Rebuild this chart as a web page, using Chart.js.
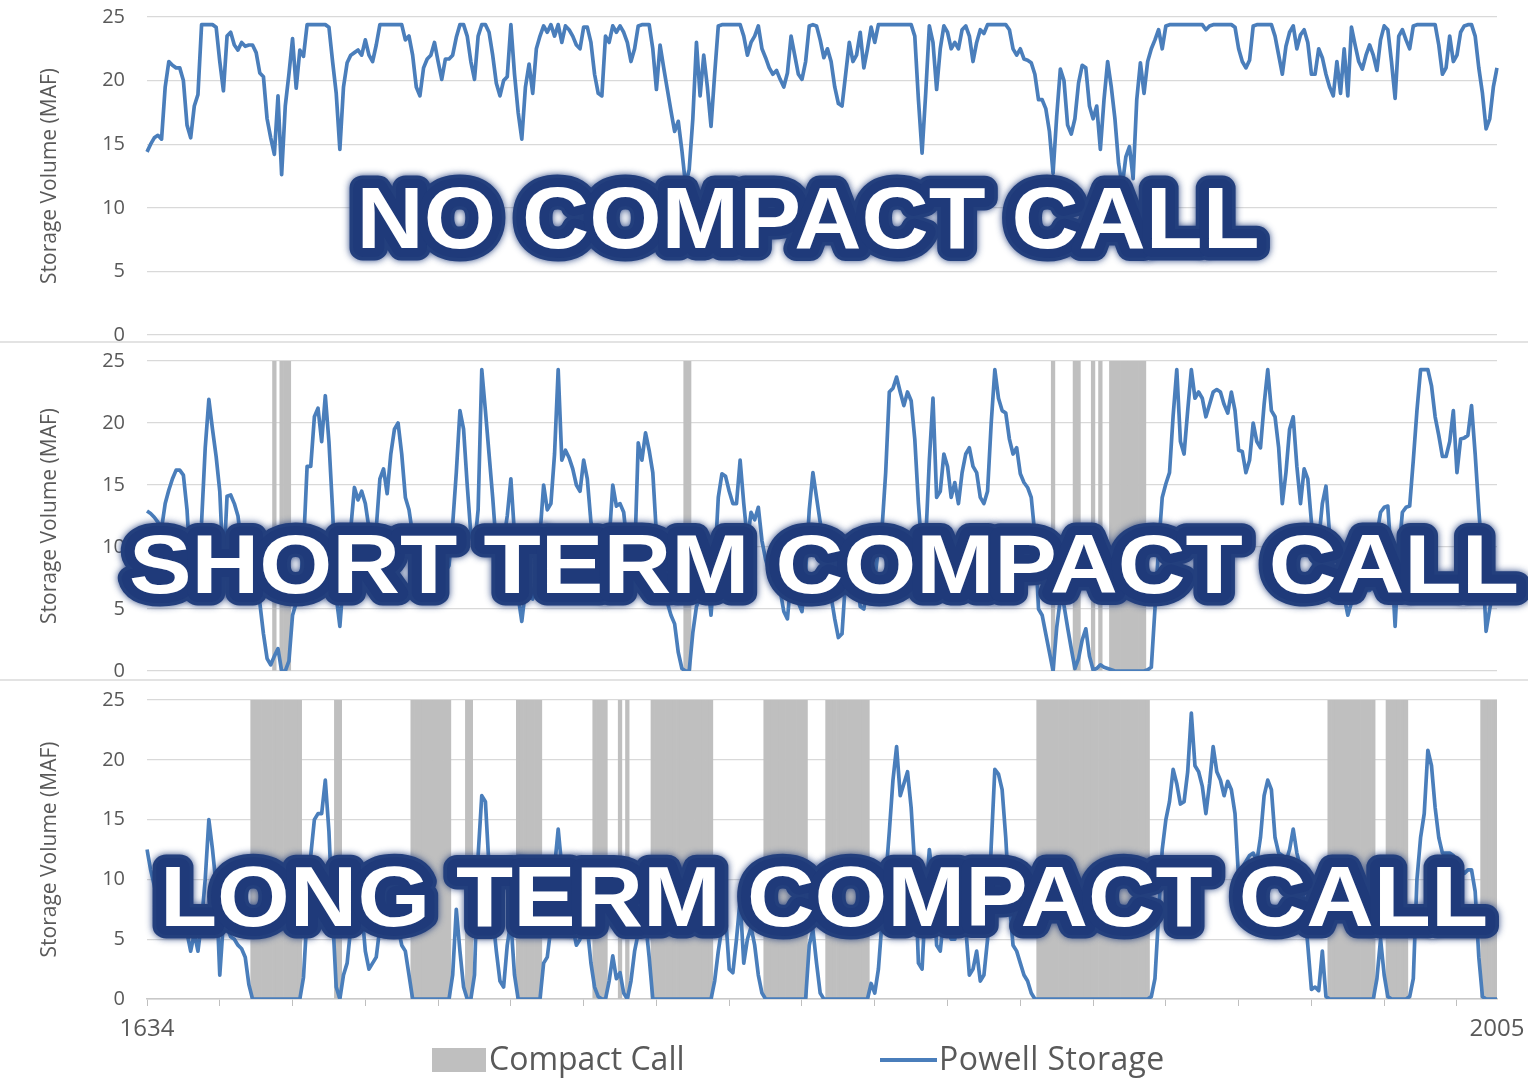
<!DOCTYPE html>
<html>
<head>
<meta charset="utf-8">
<script src="https://cdn.jsdelivr.net/npm/chart.js@4.4.1/dist/chart.umd.min.js"></script>
<style>
  html, body { margin: 0; padding: 0; background: #ffffff; }
  #wrap { position: relative; width: 1528px; height: 1078px; overflow: hidden; background: #fff; }
  canvas.layer { position: absolute; left: 0; top: 0; }
  .sep { position: absolute; left: 0; width: 1528px; height: 2px; background: #e3e3e3; }
  .lg { position: absolute; font-family: "Open Sans", "Noto Sans", sans-serif; font-size: 32px; line-height: 32px; color: #595959; white-space: nowrap; }
  .lgbox { position: absolute; background: #bfbfbf; }
  .lgline { position: absolute; background: #4a7ebb; }
</style>
</head>
<body>
<div id="wrap">
  <canvas id="c1" class="layer" width="1528" height="1078"></canvas>
  <canvas id="c2" class="layer" width="1528" height="1078"></canvas>
  <canvas id="c3" class="layer" width="1528" height="1078"></canvas>
  <div class="sep" style="top:341px"></div>
  <div class="sep" style="top:679px"></div>
  <div class="lgbox" style="left:432px; top:1048px; width:54px; height:24px;"></div>
  <div class="lg" style="left:489px; top:1042px;">Compact Call</div>
  <div class="lgline" style="left:880px; top:1058px; width:57px; height:4px;"></div>
  <div class="lg" style="left:939px; top:1042px; letter-spacing:0.4px;">Powell Storage</div>
</div>
<script>
// ---------------- data ----------------
const firstYear = 1634;
const lastYear = 2005;
const years = [];
for (let y = firstYear; y <= lastYear; y++) years.push(String(y));

const edgeTickLabels = ["1634", "2005"];
const yTickValues = [0, 5, 10, 15, 20, 25];

// Powell storage (MAF), no compact call
const noCallStorage = [
14.4,15.0,15.5,15.7,15.4,19.5,21.5,21.2,21.0,21.0,
20.0,16.5,15.5,18.0,18.9,24.4,24.4,24.4,24.4,24.2,
21.5,19.2,23.5,23.8,22.8,22.4,23.0,22.7,22.8,22.8,
22.2,20.6,20.3,17.0,15.5,14.2,18.8,12.6,18.0,20.5,
23.3,19.4,22.4,21.9,24.4,24.4,24.4,24.4,24.4,24.4,
24.2,21.5,19.0,14.6,19.5,21.4,22.0,22.2,22.4,22.0,
23.2,22.0,21.5,22.8,24.4,24.4,24.4,24.4,24.4,24.4,
24.4,23.2,23.5,22.0,19.5,18.8,21.0,21.7,22.0,23.0,
21.5,20.1,21.7,21.7,22.0,23.4,24.4,24.4,23.5,21.5,
20.1,23.5,24.4,24.4,23.8,22.0,19.8,18.8,20.0,20.3,
24.4,20.5,17.5,15.4,19.5,21.3,19.0,22.5,23.5,24.3,
23.8,24.4,23.5,24.4,23.0,24.3,24.0,23.5,22.8,22.5,
24.2,24.2,23.0,20.5,19.0,18.8,23.5,23.0,24.3,23.8,
24.3,23.8,23.0,21.5,22.5,24.3,24.4,24.4,24.4,22.5,
19.3,22.8,21.0,19.3,17.6,16.0,16.8,14.5,11.8,13.0,
17.0,23.0,18.8,22.0,19.5,16.4,20.5,24.3,24.4,24.4,
24.4,24.4,24.4,24.4,23.5,22.0,23.0,23.5,24.3,22.5,
21.8,21.0,20.5,20.8,20.1,19.5,20.6,23.5,22.0,20.5,
20.1,21.5,24.3,24.4,24.3,23.2,21.8,22.5,21.5,19.5,
18.2,18.0,20.5,23.0,21.5,22.0,23.8,21.0,22.5,24.2,
23.0,24.4,24.4,24.4,24.4,24.4,24.4,24.4,24.4,24.4,
24.4,23.5,18.5,14.3,19.0,24.3,23.0,19.3,22.5,24.3,
23.8,22.5,23.0,22.5,24.0,24.3,23.5,21.5,23.0,24.0,
23.7,24.4,24.4,24.4,24.4,24.4,24.4,24.0,22.5,22.0,
22.5,21.7,21.6,21.4,20.5,18.5,18.5,17.8,16.0,12.7,
17.2,20.9,20.0,16.5,15.8,17.0,19.8,21.2,21.0,18.0,
17.0,18.0,14.6,18.5,21.5,19.5,17.0,13.5,11.7,14.0,
14.8,12.3,18.5,21.4,19.0,21.5,22.5,23.2,24.0,22.5,
24.3,24.4,24.4,24.4,24.4,24.4,24.4,24.4,24.4,24.4,
24.4,24.0,24.3,24.4,24.4,24.4,24.4,24.4,24.4,24.2,
22.5,21.5,21.0,21.6,24.3,24.4,24.4,24.4,24.4,24.4,
23.5,22.0,20.5,22.7,23.8,24.3,22.5,23.6,24.0,23.0,
20.5,20.5,22.5,21.8,20.5,19.5,18.8,21.5,19.0,22.5,
18.8,24.2,22.8,21.5,20.9,22.0,22.8,22.0,20.8,23.2,
24.3,24.0,21.5,18.6,23.5,24.0,23.2,22.5,24.3,24.4,
24.4,24.4,24.4,24.4,24.4,22.8,20.5,21.0,23.5,21.5,
22.0,23.8,24.3,24.4,24.4,23.5,21.0,19.0,16.2,17.0,
19.5,21.0];

// Powell storage (MAF), short term compact call
const shortTermStorage = [
12.9,12.7,12.4,12.0,11.5,13.5,14.6,15.5,16.2,16.2,
15.8,13.0,8.0,6.0,8.5,12.0,18.0,21.9,19.5,17.3,
14.5,8.0,14.1,14.2,13.5,12.5,10.0,8.5,7.0,6.5,
6.0,5.5,3.0,1.0,0.5,1.2,1.8,0,0,0.8,
4.5,5.5,6.5,10.0,16.5,16.5,20.5,21.2,18.5,22.2,
18.5,13.0,6.0,3.6,7.5,10.5,11.5,14.8,13.8,14.5,
13.5,11.5,9.5,11.5,15.5,16.3,14.3,17.5,19.5,20.0,
17.5,14.0,13.0,11.0,9.0,8.0,7.5,9.0,11.5,11.5,
10.0,8.5,8.0,8.5,11.8,16.0,21.0,19.5,15.0,11.0,
10.0,13.0,24.3,21.0,17.5,14.0,10.0,8.5,10.5,12.5,
15.5,11.0,6.0,4.0,6.5,6.0,5.8,8.0,11.0,15.0,
13.0,13.5,17.5,24.3,17.0,17.8,17.2,16.3,15.0,14.5,
17.0,15.5,12.0,11.0,8.0,6.0,7.0,10.5,15.0,13.3,
13.5,12.8,10.0,8.5,9.0,18.4,17.0,19.2,17.8,16.0,
11.0,8.5,7.5,5.5,4.5,3.8,1.5,0.2,0,0,
3.1,5.2,6.0,9.0,7.5,4.5,8.5,14.0,15.9,15.7,
14.5,13.5,13.5,17.0,13.5,10.5,12.8,12.2,13.2,10.5,
9.0,8.0,7.0,7.3,6.5,4.8,4.2,7.5,6.5,5.5,
4.8,8.0,13.0,16.0,14.0,12.0,10.5,8.0,6.0,4.2,
2.7,3.0,7.5,10.0,11.0,8.0,5.2,5.0,7.0,7.5,
7.3,10.0,11.5,16.0,22.5,22.8,23.7,22.5,21.4,22.5,
21.8,18.7,13.5,9.5,10.5,17.0,22.0,14.0,14.5,17.5,
16.5,14.0,15.2,13.5,16.0,17.5,18.0,16.5,16.0,14.0,
13.5,14.5,20.0,24.3,22.0,21.0,20.8,18.7,17.5,18.0,
15.9,15.2,14.8,14.0,11.0,5.0,4.5,3.0,1.5,0,
3.5,5.8,5.3,3.5,1.8,0.2,1.0,2.5,3.4,1.2,
0.1,0.2,0.5,0.3,0.2,0.1,0,0,0,0,
0,0,0,0,0,0.1,0.3,5.0,10.0,14.0,
15.1,16.0,20.6,24.3,18.5,17.5,21.0,24.3,22.0,22.5,
22.0,20.5,21.5,22.5,22.7,22.5,21.5,20.8,22.5,21.0,
17.8,17.7,16.0,17.0,20.0,18.5,18.0,21.5,24.3,21.0,
20.5,18.0,13.5,16.0,19.5,20.5,16.5,13.5,16.3,15.5,
12.0,6.5,10.5,13.5,14.9,11.0,8.0,6.0,5.8,6.0,
4.5,5.5,7.0,7.5,7.0,6.5,6.5,9.5,11.0,12.8,
13.2,13.3,9.0,3.6,9.5,12.8,13.2,13.3,17.0,21.0,
24.3,24.3,24.3,23.0,20.5,19.0,17.3,17.3,18.5,21.0,
16.0,18.7,18.8,19.0,21.4,17.5,13.0,9.0,3.2,5.0,
6.5,6.1];

// Powell storage (MAF), long term compact call
const longTermStorage = [
12.5,10.8,9.5,8.0,7.0,6.0,5.5,6.5,8.0,7.5,
6.0,5.5,4.0,5.5,4.0,6.5,10.0,15.0,12.5,9.5,
2.0,6.5,6.0,5.2,5.0,4.5,4.2,3.5,1.2,0,
0,0,0,0,0,0,0,0,0,0,
0,0,0,1.8,7.0,12.0,15.0,15.5,15.5,18.3,
14.0,7.0,1.0,0,2.0,3.0,6.0,8.0,9.0,7.5,
4.0,2.5,3.0,3.5,6.0,9.0,10.0,8.0,7.0,6.0,
4.5,4.0,2.0,0,0,0,0,0,0,0,
0,0,0,0,2.0,7.5,4.0,1.0,0,0,
2.0,12.0,17.0,16.5,11.0,7.0,4.0,1.5,1.0,4.5,
6.5,2.0,0,0,0,0,0,0,0,3.0,
3.5,6.0,11.0,14.2,11.0,7.0,6.0,6.0,4.5,5.0,
7.0,6.0,3.0,1.0,0.2,0,0,1.5,3.6,1.7,
2.2,0.5,0,1.5,4.0,5.5,7.0,6.5,3.5,0,
0,0,0,0,0,0,0,0,0,0,
0,0,0,0,0,0,1.5,4.0,6.0,7.0,
2.5,2.2,5.0,8.3,3.0,5.0,6.0,4.5,2.0,0.5,
0,0,0,0,0,0,0,0,0,0,
0,0,4.5,5.8,3.0,0.5,0,0,0,0,
0,0,0,0,0,0,0,0,0,1.3,
0.5,2.5,6.5,10.0,14.0,18.3,21.1,17.0,18.0,19.0,
16.0,11.0,3.0,2.5,8.5,12.5,10.0,4.5,4.0,7.0,
6.0,5.0,5.0,8.0,6.5,6.0,2.0,2.5,4.0,1.5,
2.0,5.0,12.8,19.2,18.8,17.5,13.5,8.0,4.5,4.0,
3.0,2.0,1.5,0.5,0,0,0,0,0,0,
0,0,0,0,0,0,0,0,0,0,
0,0,0,0,0,0,0,0,0,0,
0,0,0,0,0,0,0.2,1.7,7.0,12.5,
15.0,16.5,19.2,18.0,16.3,16.5,19.0,23.9,19.5,19.0,
17.8,15.5,18.0,21.1,19.0,18.3,17.0,18.2,17.5,15.5,
10.0,11.0,11.5,12.0,12.2,11.5,13.5,17.0,18.3,17.5,
13.5,12.2,12.0,11.5,12.5,14.2,12.2,11.0,8.0,4.5,
0.8,1.0,0.7,4.0,0.2,0,0,0,0,0,
0,0,0,0,0,0,0,0,1.7,5.0,
2.0,0.2,0,0,0,0,0,0.2,1.7,10.0,
13.5,15.5,20.8,19.5,16.0,13.5,12.2,12.2,12.2,12.0,
11.5,11.0,10.5,10.8,10.8,9.0,3.5,0.2,0,0,
0,0];

// Compact call periods (first year, last year)
const shortTermCallPeriods = [[1669,1669],[1671,1673],[1782,1783],[1883,1883],[1889,1890],[1894,1894],[1896,1896],[1899,1908]];
const longTermCallPeriods = [[1663,1676],[1686,1687],[1707,1717],[1722,1723],[1736,1742],[1757,1760],[1764,1764],[1766,1766],[1773,1789],[1804,1815],[1821,1832],[1879,1909],[1959,1971],[1975,1980],[2001,2005]];
const callLevel = 25;

const panelTitles = ["NO COMPACT CALL", "SHORT TERM COMPACT CALL", "LONG TERM COMPACT CALL"];
const seriesNames = ["Compact Call", "Powell Storage"];
const yAxisTitle = "Storage Volume (MAF)";

// ---------------- styles ----------------
const BLUE = '#4a7ebb';
const GRAY = '#bfbfbf';
const TXT = '#595959';
const FONT = '"Open Sans", "Noto Sans", sans-serif';

function callSeries(periods) {
  return years.map(y => {
    const yr = Number(y);
    return periods.some(p => yr >= p[0] && yr <= p[1]) ? callLevel : null;
  });
}

const bannerPlugin = {
  id: 'banner',
  afterDraw(chart, args, o) {
    if (!o || !o.text) return;
    const ctx = chart.ctx;
    const fs = o.capHeight / 0.716;
    ctx.save();
    ctx.font = 'bold ' + fs + 'px "Liberation Sans", Arial, sans-serif';
    const w = ctx.measureText(o.text).width;
    ctx.translate(o.x, o.y);
    ctx.scale(o.width / w, 1);
    ctx.textAlign = 'center';
    ctx.textBaseline = 'alphabetic';
    ctx.lineJoin = 'round';
    ctx.shadowColor = 'rgba(30,58,122,0.9)';
    ctx.shadowBlur = 7;
    ctx.strokeStyle = '#233f7d';
    ctx.lineWidth = 25;
    ctx.strokeText(o.text, 0, 0);
    ctx.shadowBlur = 0;
    ctx.strokeStyle = '#1f3a7a';
    ctx.lineWidth = 18;
    ctx.strokeText(o.text, 0, 0);
    ctx.fillStyle = '#ffffff';
    ctx.fillText(o.text, 0, 0);
    ctx.restore();
  }
};

function tickCol(c) {
  return (c.index % 20 === 0) ? '#bfbfbf' : 'rgba(0,0,0,0)';
}

function buildChart(id, storage, calls, pad, banner, showX) {
  const datasets = [{
    type: 'line', label: seriesNames[1], data: storage,
    borderColor: BLUE, backgroundColor: BLUE, borderWidth: 3.7,
    pointRadius: 0, pointHoverRadius: 0, tension: 0, fill: false, order: 1,
    borderJoinStyle: 'round'
  }];
  if (calls) {
    datasets.push({
      type: 'bar', label: seriesNames[0], data: calls,
      backgroundColor: GRAY, borderWidth: 0,
      barPercentage: 1, categoryPercentage: 1, order: 2
    });
  }
  const xScale = showX ? {
    offset: false,
    grid: { display: true, offset: false, drawOnChartArea: false, drawTicks: true, tickLength: 7, color: tickCol, tickColor: tickCol, lineWidth: 1 },
    border: { display: true, color: '#c8c8c8', width: 1.5 },
    ticks: {
      autoSkip: false, maxRotation: 0, minRotation: 0, padding: 9,
      color: TXT, font: { family: FONT, size: 24 },
      callback: (v, i) => (i === 0 ? edgeTickLabels[0] : (i === years.length - 1 ? edgeTickLabels[1] : ''))
    },
    afterFit: s => { s.height = 45; s.paddingLeft = 0; s.paddingRight = 0; }
  } : { display: false, offset: false };

  return new Chart(document.getElementById(id), {
    data: { labels: years, datasets },
    options: {
      responsive: false, animation: false, events: [],
      layout: { padding: { top: pad.top, bottom: pad.bottom, left: 0, right: 31 } },
      plugins: { legend: { display: false }, tooltip: { enabled: false }, banner },
      scales: {
        x: xScale,
        y: {
          min: yTickValues[0], max: yTickValues[yTickValues.length - 1],
          afterBuildTicks: s => { s.ticks = yTickValues.map(v => ({ value: v })); },
          ticks: { padding: 22, color: TXT, font: { family: FONT, size: 20 } },
          grid: { color: '#d9d9d9', lineWidth: 1.2, drawTicks: false },
          border: { display: false },
          title: { display: true, text: yAxisTitle, color: TXT, font: { family: FONT, size: 21 }, padding: { top: 37, bottom: 0 } },
          afterFit: s => { s.width = 147; s.paddingTop = 0; s.paddingBottom = 0; }
        }
      }
    },
    plugins: [bannerPlugin]
  });
}

function drawAll() {
  buildChart('c1', noCallStorage, null, { top: 17, bottom: 743 },
    { text: panelTitles[0], x: 808, y: 248, capHeight: 63, width: 903 }, false);
  buildChart('c2', shortTermStorage, callSeries(shortTermCallPeriods), { top: 361, bottom: 407 },
    { text: panelTitles[1], x: 824, y: 593, capHeight: 60, width: 1390 }, false);
  buildChart('c3', longTermStorage, callSeries(longTermCallPeriods), { top: 700, bottom: 34 },
    { text: panelTitles[2], x: 824, y: 926, capHeight: 61, width: 1328 }, true);
}

if (document.fonts && document.fonts.load) {
  Promise.all([
    document.fonts.load('20px "Open Sans"'),
    document.fonts.load('bold 80px "Liberation Sans"')
  ]).then(drawAll, drawAll);
} else {
  drawAll();
}
</script>
</body>
</html>
